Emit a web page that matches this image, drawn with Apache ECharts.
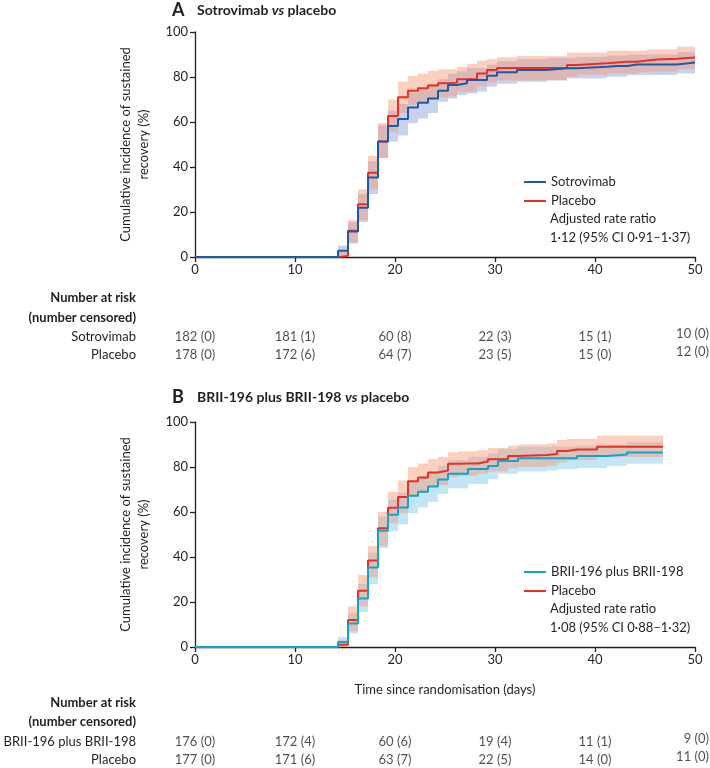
<!DOCTYPE html>
<html>
<head>
<meta charset="utf-8">
<script src="https://cdn.jsdelivr.net/npm/echarts@6/dist/echarts.min.js"></script>
<style>
  html, body { margin: 0; padding: 0; background: #fff; }
  #chart { width: 710px; height: 768px; }
</style>
</head>
<body>
<div id="chart"></div>
<script>
// panel A: sotrovimab vs placebo (step times in days, values in %)
const daysA = [0, 14.3, 15.3, 16.3, 17.3, 18.3, 19.3, 20.3, 21.3, 22.3, 23.3, 24.3, 25.3, 26.2, 27.2, 28.2, 29.2, 30.2, 32.2, 35.2, 37.2, 38.2, 41.2, 42.2, 43.2, 44.2, 45.2, 46.2, 48.2]
const endA = 50
const sotroA = [0, 2.8, 11.3, 21.9, 35.3, 51.3, 58.2, 61.3, 66.5, 68.6, 70.5, 73.9, 76.4, 77.2, 78.7, 78.7, 80.6, 82.1, 83.1, 83.9, 83.9, 84.6, 84.9, 84.9, 85.6, 85.6, 85.6, 85.6, 86.4]
const sotroLoA = [0, 0.8, 6, 15.5, 28, 44, 51.3, 54, 59.5, 61.6, 64, 69, 70.5, 72, 72.7, 73.5, 75.7, 77, 77.9, 78.5, 79.4, 79.4, 80.1, 80.1, 80.9, 80.9, 80.9, 80.9, 81.6]
const sotroHiA = [0, 5, 15.5, 28, 42.5, 58.5, 65, 68, 73, 75, 77, 79, 81.5, 82.5, 84, 84, 85.5, 87, 88, 88.5, 88.5, 89, 89.5, 89.5, 90, 90, 90, 90, 91]
const placeboA = [0, 0.5, 11.7, 23.4, 37.5, 51.3, 62.7, 71.0, 73.9, 75.0, 76.2, 77.2, 77.5, 79.0, 79.0, 81.6, 83.1, 84.0, 84.0, 84.0, 85.3, 86.1, 86.4, 86.8, 86.8, 87.3, 87.8, 88.1, 88.7]
const placeboLoA = [0, 0, 6.5, 16.5, 30, 44, 55.5, 64, 67.5, 68.5, 70, 71, 71.5, 73.5, 73.5, 76, 77.5, 78.5, 78.5, 78.5, 80, 81, 81.5, 81.5, 81.5, 82, 82.5, 82.5, 83.5]
const placeboHiA = [0, 2.5, 16.5, 30, 45, 59.5, 70, 78, 80.5, 81.5, 82.7, 83.4, 83.4, 84.6, 85.8, 87.3, 88, 88.8, 89.3, 89.3, 90.8, 90.8, 91.7, 91.7, 91.7, 91.7, 92.3, 92.3, 93.5]

// panel B: BRII-196 plus BRII-198 vs placebo
const daysB = [0, 14.3, 15.3, 16.3, 17.3, 18.3, 19.3, 20.3, 21.3, 22.3, 23.3, 24.3, 25.3, 26.3, 27.3, 28.3, 29.3, 30.3, 31.3, 32.3, 35.2, 36.2, 37.2, 38.2, 40.2, 41.2, 43.2]
const endB = 46.8
const briiB = [0, 2.2, 10.5, 21.6, 35.3, 51.7, 58.8, 62.0, 67.2, 69.0, 71.3, 74.4, 77.0, 77.0, 79.1, 79.1, 80.4, 82.7, 82.7, 83.9, 83.9, 83.9, 83.9, 84.9, 84.9, 85.6, 86.5]
const briiLoB = [0, 0.5, 6, 15.5, 28, 44, 51.5, 54.5, 59.5, 62, 64.5, 68, 70.5, 70.5, 72.5, 72.5, 74.5, 77, 77, 78, 78.5, 79, 79, 79.5, 79.5, 80.5, 81.5]
const briiHiB = [0, 4.5, 15, 28, 42, 58, 65.5, 68.5, 73.5, 75.5, 77.5, 80.5, 83, 83, 84.5, 84.5, 86, 88, 88, 89, 89, 89, 89, 89.5, 89.5, 90, 91]
const placeboB = [0, 1.0, 12.0, 25.0, 38.4, 52.8, 61.9, 66.7, 73.7, 75.3, 77.6, 78.4, 81.4, 81.6, 81.6, 82.4, 83.4, 83.4, 84.9, 85.3, 85.8, 87.1, 87.8, 87.8, 89.0, 89.0, 89.0]
const placeboLoB = [0, 0, 7, 18, 31, 45, 55, 59.5, 67, 68.5, 71, 72, 75.5, 76, 76, 77, 78, 78, 79.5, 80, 80.5, 82, 83, 83, 84.5, 84.5, 84.5]
const placeboHiB = [0, 3, 18, 32, 45, 60, 69, 74, 80, 81.5, 83.5, 84.5, 86.5, 87, 87, 87.5, 88.5, 88.5, 89.5, 90, 90.5, 92, 92.5, 92.5, 94, 94, 94]

// number at risk (number censored)
const riskDays = [0, 10, 20, 30, 40, 50]
const riskSotro = ['182 (0)', '181 (1)', '60 (8)', '22 (3)', '15 (1)', '10 (0)']
const riskPlaceboA = ['178 (0)', '172 (6)', '64 (7)', '23 (5)', '15 (0)', '12 (0)']
const riskBrii = ['176 (0)', '172 (4)', '60 (6)', '19 (4)', '11 (1)', '9 (0)']
const riskPlaceboB = ['177 (0)', '171 (6)', '63 (7)', '22 (5)', '14 (0)', '11 (0)']

const ink = '#231f20'
const font = 'Lato, "Open Sans", sans-serif'
const red = '#ec2d24'
const blue = '#1d5aa6'
const cyan = '#17a1cd'

// step confidence band, one rect per interval
function band (days, end, lo, hi, color, idx) {
  const data = days.map((d, i) => [d, i < days.length - 1 ? days[i + 1] : end, lo[i], hi[i]])
  return {
    type: 'custom',
    xAxisIndex: idx,
    yAxisIndex: idx,
    silent: true,
    z: 1,
    data: data,
    encode: { x: [0, 1], y: [2, 3] },
    renderItem: function (params, api) {
      const a = api.coord([api.value(0), api.value(3)])
      const b = api.coord([api.value(1), api.value(2)])
      const x0 = Math.round(a[0])
      const x1 = Math.round(b[0])
      return {
        type: 'rect',
        shape: { x: x0, y: a[1], width: x1 - x0, height: b[1] - a[1] },
        style: { fill: color }
      }
    }
  }
}

function curve (name, days, end, vals, color, idx) {
  const data = days.map((d, i) => [d, vals[i]])
  data.push([end, vals[vals.length - 1]])
  return {
    name: name,
    type: 'line',
    step: 'end',
    symbol: 'none',
    xAxisIndex: idx,
    yAxisIndex: idx,
    z: 3,
    data: data,
    lineStyle: { color: color, width: 2 },
    itemStyle: { color: color }
  }
}

function riskRow (texts, row, idx) {
  return {
    type: 'scatter',
    xAxisIndex: idx,
    yAxisIndex: idx,
    symbolSize: 0,
    silent: true,
    data: riskDays.map((d, i) => {
      const last = i === riskDays.length - 1
      return {
        value: [d, row],
        label: {
          formatter: texts[i],
          position: last ? [14, -3] : [0, 0],
          align: last ? 'right' : 'center'
        }
      }
    }),
    label: { show: true, verticalAlign: 'middle', color: ink, fontSize: 13, fontFamily: font }
  }
}

function chartX (idx, withName) {
  return {
    gridIndex: idx,
    type: 'value',
    min: 0,
    max: 50,
    interval: 10,
    name: withName ? 'Time since randomisation (days)' : '',
    nameLocation: 'middle',
    nameGap: 36,
    nameTextStyle: { color: ink, fontSize: 13, fontFamily: font },
    axisLine: { show: true, onZero: false, lineStyle: { color: ink, width: 1.3 } },
    axisTick: { show: true, length: 5, lineStyle: { color: ink, width: 1.3 } },
    axisLabel: { color: ink, fontSize: 13, margin: 6, fontFamily: font },
    splitLine: { show: false }
  }
}

function chartY (idx) {
  return {
    gridIndex: idx,
    type: 'value',
    min: 0,
    max: 100,
    interval: 20,
    name: 'Cumulative incidence of sustained\nrecovery (%)',
    nameLocation: 'middle',
    nameRotate: 90,
    nameGap: 42,
    nameTextStyle: { color: ink, fontSize: 13, lineHeight: 18, fontFamily: font },
    axisLine: { show: true, lineStyle: { color: ink, width: 1.3 } },
    axisTick: { show: true, length: 5, lineStyle: { color: ink, width: 1.3 } },
    axisLabel: { color: ink, fontSize: 13, margin: 7, fontFamily: font },
    splitLine: { show: false }
  }
}

function tableX (idx) {
  return { gridIndex: idx, type: 'value', min: 0, max: 50, show: false }
}

function tableY (idx, rows) {
  return {
    gridIndex: idx,
    type: 'category',
    data: rows,
    inverse: true,
    boundaryGap: false,
    axisLine: { show: false },
    axisTick: { show: false },
    splitLine: { show: false },
    axisLabel: { color: ink, fontSize: 13, margin: 59, fontFamily: font }
  }
}

function legendFor (names, top) {
  return {
    data: names,
    orient: 'vertical',
    left: 524,
    top: top,
    padding: 0,
    icon: 'rect',
    itemWidth: 22,
    itemHeight: 2,
    itemGap: 5,
    selectedMode: false,
    textStyle: { color: ink, fontSize: 13, lineHeight: 14, fontFamily: font }
  }
}

function titleText (letter, parts, y) {
  return {
    type: 'text',
    x: 172,
    y: y,
    style: {
      text: '{l|' + letter + '}' + parts,
      verticalAlign: 'middle',
      rich: {
        l: { fontSize: 18, fontWeight: 'bold', width: 25, fontFamily: font, fill: ink },
        t: { fontSize: 14, fontWeight: 'bold', fontFamily: font, fill: ink },
        i: { fontSize: 14, fontWeight: 'bold', fontStyle: 'italic', fontFamily: font, fill: ink }
      }
    }
  }
}

function plainText (x, y, text, align, weight, lh) {
  return {
    type: 'text',
    x: x,
    y: y,
    style: { text: text, align: align, fill: ink, font: (weight || 'normal') + ' 13px ' + font, lineHeight: lh }
  }
}

const chart = echarts.init(document.getElementById('chart'))
chart.setOption({
  animation: false,
  backgroundColor: '#fff',
  textStyle: { fontFamily: font },
  grid: [
    { left: 195, top: 32, width: 500, height: 225 },
    { left: 195, top: 422, width: 500, height: 225 },
    { left: 195, top: 337, width: 500, height: 18 },
    { left: 195, top: 742, width: 500, height: 18 }
  ],
  xAxis: [chartX(0, false), chartX(1, true), tableX(2), tableX(3)],
  yAxis: [chartY(0), chartY(1), tableY(2, ['Sotrovimab', 'Placebo']), tableY(3, ['BRII-196 plus BRII-198', 'Placebo'])],
  legend: [
    legendFor(['Sotrovimab', 'Placebo'], 175),
    legendFor(['BRII-196 plus BRII-198', 'Placebo'], 565)
  ],
  series: [
    band(daysA, endA, sotroLoA, sotroHiA, 'rgba(110,135,210,0.38)', 0),
    band(daysA, endA, placeboLoA, placeboHiA, 'rgba(247,150,110,0.45)', 0),
    curve('Placebo', daysA, endA, placeboA, red, 0),
    curve('Sotrovimab', daysA, endA, sotroA, blue, 0),
    band(daysB, endB, briiLoB, briiHiB, 'rgba(120,200,235,0.45)', 1),
    band(daysB, endB, placeboLoB, placeboHiB, 'rgba(247,150,110,0.45)', 1),
    curve('Placebo', daysB, endB, placeboB, red, 1),
    curve('BRII-196 plus BRII-198', daysB, endB, briiB, cyan, 1),
    riskRow(riskSotro, 'Sotrovimab', 2),
    riskRow(riskPlaceboA, 'Placebo', 2),
    riskRow(riskBrii, 'BRII-196 plus BRII-198', 3),
    riskRow(riskPlaceboB, 'Placebo', 3)
  ],
  graphic: [
    titleText('A', '{t|Sotrovimab }{i|vs}{t| placebo}', 10),
    titleText('B', '{t|BRII-196 plus BRII-198 }{i|vs}{t| placebo}', 397),
    plainText(550, 210, 'Adjusted rate ratio\n1·12 (95% CI 0·91–1·37)', 'left', 'normal', 18.5),
    plainText(550, 600, 'Adjusted rate ratio\n1·08 (95% CI 0·88–1·32)', 'left', 'normal', 18.5),
    plainText(136, 288.5, 'Number at risk\n(number censored)', 'right', 'bold', 19.5),
    plainText(136, 693, 'Number at risk\n(number censored)', 'right', 'bold', 19.5)
  ]
})
</script>
</body>
</html>
